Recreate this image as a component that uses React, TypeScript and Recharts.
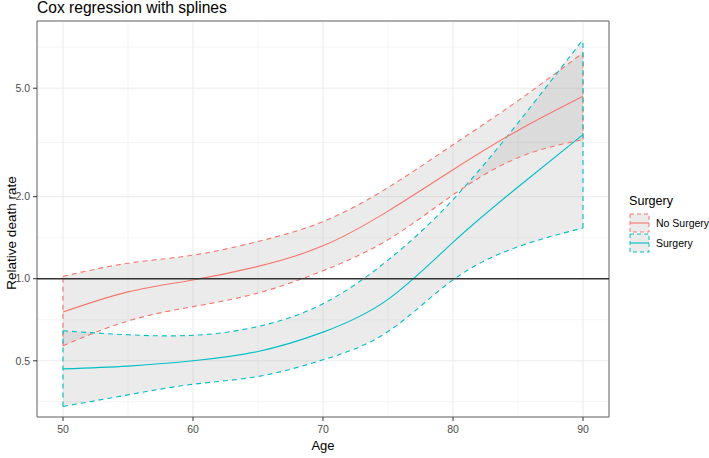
import {
  ComposedChart, Area, Line, XAxis, YAxis, CartesianGrid, ReferenceLine, ReferenceArea, Legend,
} from 'recharts'

const FONT = '"Liberation Sans", Arial, sans-serif'
const RED = '#F8766D'
const CYAN = '#00BFC4'

// values (relative death rate, log scale)
const ages = [50, 55, 60, 65, 70, 75, 80, 85, 90]
const noSurgery = [0.755, 0.895, 0.99, 1.11, 1.32, 1.77, 2.51, 3.5, 4.67]
const noSurgeryLow = [0.568, 0.7, 0.79, 0.886, 1.07, 1.39, 2.03, 2.78, 3.24]
const noSurgeryHigh = [1.02, 1.14, 1.22, 1.37, 1.62, 2.16, 3.1, 4.5, 6.74]
const surgery = [0.467, 0.478, 0.5, 0.541, 0.637, 0.84, 1.36, 2.17, 3.38]
const surgeryLow = [0.34, 0.375, 0.41, 0.438, 0.504, 0.64, 0.99, 1.31, 1.535]
const surgeryHigh = [0.644, 0.623, 0.62, 0.668, 0.81, 1.17, 1.95, 3.73, 7.54]

const xTicks = [50, 60, 70, 80, 90]
const xMinor = [55, 65, 75, 85]
const yTicks = [0.5, 1, 2, 5]
const yMinor = [0.354, 0.707, 1.414, 3.162, 7.071]
const xDomain = [48, 92]
const yDomain = [0.311, 8.82]

const groups = [
  { name: 'No Surgery', key: 'ns', color: RED, low: noSurgeryLow, high: noSurgeryHigh },
  { name: 'Surgery', key: 's', color: CYAN, low: surgeryLow, high: surgeryHigh },
]

const rows = ages.map((age, i) => ({
  age,
  nsFit: noSurgery[i],
  nsLow: noSurgeryLow[i],
  nsHigh: noSurgeryHigh[i],
  nsBand: [noSurgeryLow[i], noSurgeryHigh[i]],
  sFit: surgery[i],
  sLow: surgeryLow[i],
  sHigh: surgeryHigh[i],
  sBand: [surgeryLow[i], surgeryHigh[i]],
}))

const last = ages.length - 1
const curve = 'natural'

function SurgeryLegend() {
  return (
    <div style={{ fontFamily: FONT, color: '#000', textAlign: 'left', whiteSpace: 'nowrap' }}>
      <div style={{ fontSize: 12.6, lineHeight: '15px', marginBottom: 4 }}>Surgery</div>
      {groups.map((g) => (
        <div key={g.name} style={{ display: 'flex', alignItems: 'center', height: 20 }}>
          <svg width={22} height={20} style={{ display: 'block', flex: 'none' }}>
            <rect x={1} y={1} width={19} height={18} fill="#999" fillOpacity={0.2}
              stroke={g.color} strokeDasharray="4 3" />
            <line x1={1} x2={20} y1={10} y2={10} stroke={g.color} strokeWidth={1.1} />
          </svg>
          <span style={{ fontSize: 10.5, marginLeft: 5 }}>{g.name}</span>
        </div>
      ))}
    </div>
  )
}

export default function App() {
  const tick = { fill: '#4D4D4D', fontSize: 10.5, fontFamily: FONT }
  const dashed = { strokeWidth: 1.1, strokeDasharray: '5 4' }
  return (
    <div style={{ position: 'absolute', left: 0, top: 0, width: 709, height: 458, background: '#fff' }}>
      <svg width={709} height={20} style={{ position: 'absolute', left: 0, top: 0 }}>
        <text x={37} y={12.5} fontSize={15.6} fontFamily={FONT} fill="#000">Cox regression with splines</text>
      </svg>
      <ComposedChart width={709} height={458} data={rows}
        margin={{ top: 21, right: 100, bottom: 0, left: 0 }}>
        <CartesianGrid stroke="#EFEFEF" strokeWidth={0.6} horizontalValues={yMinor} verticalValues={xMinor} />
        <CartesianGrid stroke="#EBEBEB" strokeWidth={1} />
        <XAxis dataKey="age" type="number" domain={xDomain} ticks={xTicks} allowDataOverflow
          height={41} tickSize={4} tickMargin={5} axisLine={false}
          tickLine={{ stroke: '#333' }} tick={tick}
          label={{ value: 'Age', position: 'insideBottom', offset: 8, fill: '#000', fontSize: 13, fontFamily: FONT }} />
        <YAxis scale="log" domain={yDomain} ticks={yTicks} allowDataOverflow width={37}
          tickSize={4} tickMargin={3} axisLine={false} tickLine={{ stroke: '#333' }} tick={tick}
          tickFormatter={(v: number) => v.toFixed(1)}
          label={(props: any) => {
            const vb = props.viewBox
            const cx = vb.x + 16
            const cy = 233
            return (
              <text x={cx} y={cy} transform={`rotate(-90 ${cx} ${cy})`} textAnchor="middle"
                fontSize={13.5} fontFamily={FONT} fill="#000">Relative death rate</text>
            )
          }} />
        <Area dataKey="nsBand" type={curve} stroke="none" fill="#999" fillOpacity={0.2}
          isAnimationActive={false} activeDot={false} legendType="none" />
        <Line dataKey="nsHigh" type={curve} stroke={RED} {...dashed}
          dot={false} activeDot={false} isAnimationActive={false} legendType="none" />
        <Line dataKey="nsLow" type={curve} stroke={RED} {...dashed}
          dot={false} activeDot={false} isAnimationActive={false} legendType="none" />
        <Area dataKey="sBand" type={curve} stroke="none" fill="#999" fillOpacity={0.2}
          isAnimationActive={false} activeDot={false} legendType="none" />
        <Line dataKey="sHigh" type={curve} stroke={CYAN} {...dashed}
          dot={false} activeDot={false} isAnimationActive={false} legendType="none" />
        <Line dataKey="sLow" type={curve} stroke={CYAN} {...dashed}
          dot={false} activeDot={false} isAnimationActive={false} legendType="none" />
        {groups.map((g) => [0, last].map((i) => (
          <ReferenceLine key={g.key + i} stroke={g.color} {...dashed}
            segment={[{ x: ages[i], y: g.low[i] }, { x: ages[i], y: g.high[i] }]} />
        )))}
        <Line dataKey="nsFit" type={curve} stroke={RED} strokeWidth={1.1}
          dot={false} activeDot={false} isAnimationActive={false} legendType="none" />
        <Line dataKey="sFit" type={curve} stroke={CYAN} strokeWidth={1.1}
          dot={false} activeDot={false} isAnimationActive={false} legendType="none" />
        <ReferenceLine y={1} stroke="#333" strokeWidth={1.4} />
        <ReferenceArea x1={xDomain[0]} x2={xDomain[1]} y1={yDomain[0]} y2={yDomain[1]}
          fill="none" stroke="#666" strokeWidth={1} ifOverflow="visible" />
        <Legend content={() => <SurgeryLegend />} align="center" verticalAlign="middle"
          wrapperStyle={{ left: 629, top: 194, width: 80 }} />
      </ComposedChart>
    </div>
  )
}
